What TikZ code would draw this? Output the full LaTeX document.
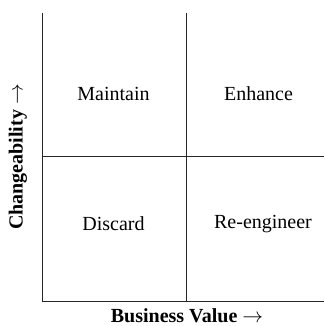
\documentclass[tikz,border=0pt]{standalone}
\usepackage{fontspec}
\setmainfont{Liberation Serif}
\usepackage{tikz}
\usetikzlibrary{positioning}

\begin{document}
\begin{tikzpicture}[x=1pt,y=1pt]
		\useasboundingbox (0,0) rectangle (324,326);
		\tikzstyle{AxisStyle}=[draw=black!85,line width=0.9pt]
		\tikzstyle{QuadStyle}=[font=\fontsize{20}{24}\selectfont,inner sep=0pt]
		\tikzstyle{TitleStyle}=[font=\fontsize{20}{24}\selectfont\bfseries,inner sep=0pt]
		% corners of the grid
		\coordinate (O) at (42,24.5);
		\coordinate (T) at (42,313);
		\coordinate (R) at (324,24.5);
		\coordinate (MT) at (186.7,313);
		\coordinate (MB) at (186.7,24.5);
		\coordinate (ML) at (42,169.5);
		\coordinate (MR) at (324,169.5);
		% axes and dividers
		\draw[AxisStyle] (T) -- (O) -- (R);
		\draw[AxisStyle] (MT) -- (MB);
		\draw[AxisStyle] (ML) -- (MR);
		% quadrants
		\node[QuadStyle] (maintain) at (113.5,232) {Maintain};
		\node[QuadStyle] (enhance) at (258.5,232) {Enhance};
		\node[QuadStyle] (discard) at (113.5,102) {Discard};
		\node[QuadStyle] (reeng) at (263,102) {Re-engineer};
		% axis titles
		\node[TitleStyle,anchor=base] (value) at (187,4) {Business Value $\rightarrow$};
		\node[TitleStyle,rotate=90] (change) at (18,169) {Changeability $\rightarrow$};
	\end{tikzpicture}
\end{document}
